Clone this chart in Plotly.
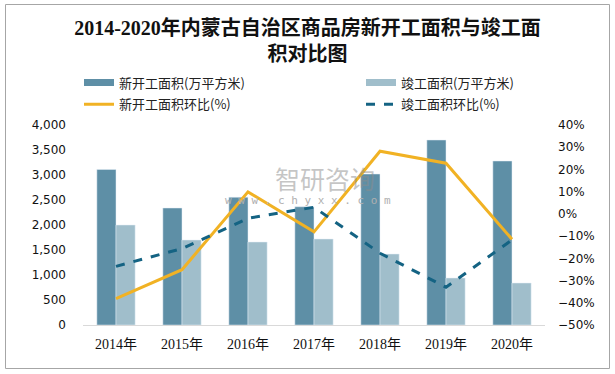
import plotly.graph_objects as go

years = ["2014年", "2015年", "2016年", "2017年", "2018年", "2019年", "2020年"]
new_start = [3110, 2340, 2555, 2365, 3020, 3700, 3280]
completed = [2000, 1700, 1660, 1720, 1420, 940, 840]
new_start_growth = [-38.1, -25.1, 9.9, -8.1, 28.2, 22.8, -11.4]
completed_growth = [-23.6, -15.6, -2.0, 3.0, -17.7, -33.0, -11.7]

names = ["新开工面积(万平方米)", "竣工面积(万平方米)", "新开工面积环比(%)", "竣工面积环比(%)"]
c_dark = "#5E8FA6"
c_light = "#A0BECB"
c_yellow = "#F1B224"
c_teal = "#146383"

W, H = 615, 374
L, R, T, B = 83, 545, 125, 325

fig = go.Figure()
fig.add_trace(go.Bar(x=years, y=new_start, marker_color=c_dark, name=names[0], showlegend=False))
fig.add_trace(go.Bar(x=years, y=completed, marker_color=c_light, name=names[1], showlegend=False))
fig.add_trace(go.Scatter(x=years, y=new_start_growth, yaxis="y2", mode="lines",
                         line=dict(color=c_yellow, width=3), name=names[2], showlegend=False))
fig.add_trace(go.Scatter(x=years, y=completed_growth, yaxis="y2", mode="lines",
                         line=dict(color=c_teal, width=3, dash="dash"), name=names[3], showlegend=False))

# legend entries
leg_font = dict(family="Noto Sans CJK SC", size=13, color="#222222")
fig.add_trace(go.Scatter(x=[None], y=[None], mode="lines", line=dict(color=c_dark, width=7),
                         name=names[0], legend="legend", legendgroup="a"))
fig.add_trace(go.Scatter(x=[None], y=[None], mode="lines", line=dict(color=c_yellow, width=3),
                         name=names[2], legend="legend", legendgroup="b"))
fig.add_trace(go.Scatter(x=[None], y=[None], mode="lines", line=dict(color=c_light, width=7),
                         name=names[1], legend="legend2", legendgroup="c"))
fig.add_trace(go.Scatter(x=[None], y=[None], mode="lines", line=dict(color=c_teal, width=3, dash="dash"),
                         name=names[3], legend="legend2", legendgroup="d"))

def py(p):
    return (B - p) / (B - T)

def px(p):
    return (p - L) / (R - L)

tick_font = dict(family="DejaVu Sans", size=12, color="#111111")

fig.update_layout(
    width=W, height=H,
    margin=dict(l=L, r=W - R, t=T, b=H - B, autoexpand=False),
    paper_bgcolor="white", plot_bgcolor="white",
    barmode="group", bargap=0.42, bargroupgap=0,
    title=dict(text="2014-2020年内蒙古自治区商品房新开工面积与竣工面<br>积对比图",
               x=0.5, xanchor="center", y=1 - 35 / H, yanchor="middle",
               font=dict(family="Liberation Serif, Noto Sans CJK SC", size=20, color="#111111", weight="bold")),
    xaxis=dict(type="category", showline=True, linecolor="#D9D9D9", linewidth=1, ticks="", showgrid=False,
               tickangle=0, ticklabelstandoff=6,
               tickfont=dict(family="Liberation Serif, Noto Sans CJK SC", size=14, color="#111111")),
    yaxis=dict(range=[0, 4000], dtick=500, tickformat=",", showgrid=False, zeroline=False,
               ticklabelstandoff=16, tickfont=tick_font),
    yaxis2=dict(range=[-50, 40], dtick=10, ticksuffix="%", overlaying="y", side="right",
                showgrid=False, zeroline=False, ticklabelstandoff=12, tickfont=tick_font),
    legend=dict(x=79 / W, xref="container", y=1 - 67.5 / H, yref="container",
                xanchor="left", yanchor="top", orientation="v", font=leg_font,
                tracegroupgap=2, bgcolor="rgba(0,0,0,0)"),
    legend2=dict(x=361 / W, xref="container", y=1 - 67.5 / H, yref="container",
                 xanchor="left", yanchor="top", orientation="v", font=leg_font,
                 tracegroupgap=2, bgcolor="rgba(0,0,0,0)"),
    shapes=[dict(type="rect", xref="paper", yref="paper",
                 x0=px(5.5), x1=px(609.5), y0=py(368.5), y1=py(4.5),
                 line=dict(color="#A6A6A6", width=1), fillcolor="rgba(0,0,0,0)", layer="below")],
    annotations=[
        dict(text="智研咨询", xref="paper", yref="paper", x=px(325), y=py(178), showarrow=False,
             yanchor="middle", font=dict(family="Noto Sans CJK SC", size=25, color="rgba(140,140,140,0.5)")),
        dict(text="w w w . c h y x x . c o m", xref="paper", yref="paper", x=px(308), y=py(200),
             yanchor="middle", showarrow=False,
             font=dict(family="DejaVu Sans Mono", size=11, color="#B0B0B0")),
    ],
)

fig.write_html("out.html", config={"displayModeBar": False},
               post_script="document.body.style.margin='0';document.body.style.padding='0';")
